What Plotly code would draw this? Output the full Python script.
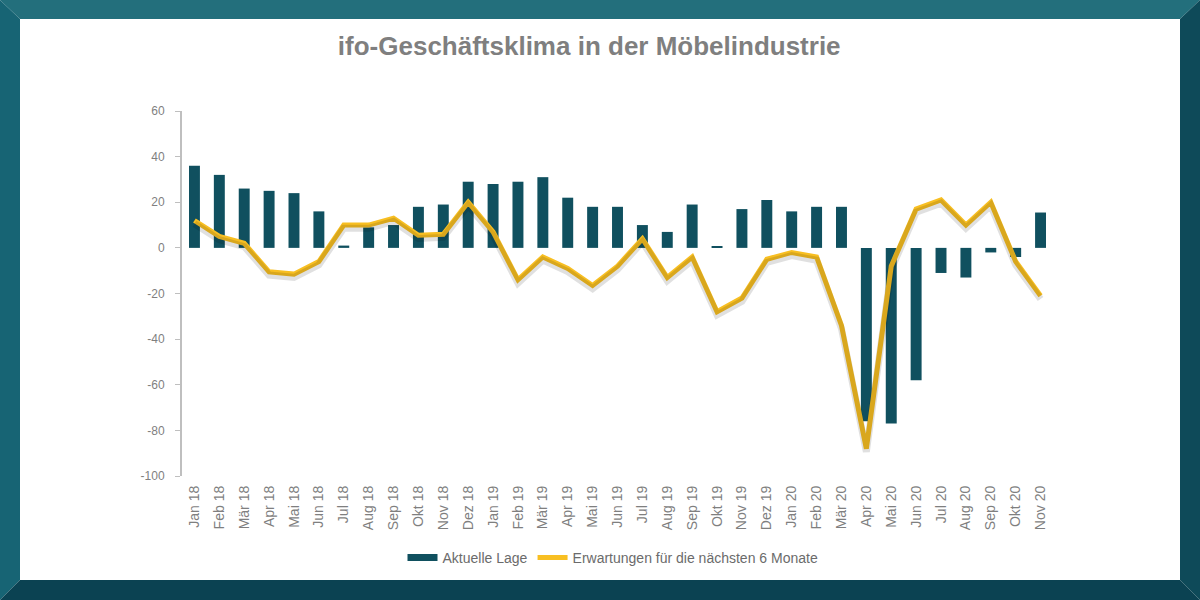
import plotly.graph_objs as go

# months Jan 18 .. Nov 20
months = ['Jan 18', 'Feb 18', 'Mär 18', 'Apr 18', 'Mai 18', 'Jun 18', 'Jul 18', 'Aug 18',
          'Sep 18', 'Okt 18', 'Nov 18', 'Dez 18', 'Jan 19', 'Feb 19', 'Mär 19', 'Apr 19',
          'Mai 19', 'Jun 19', 'Jul 19', 'Aug 19', 'Sep 19', 'Okt 19', 'Nov 19', 'Dez 19',
          'Jan 20', 'Feb 20', 'Mär 20', 'Apr 20', 'Mai 20', 'Jun 20', 'Jul 20', 'Aug 20',
          'Sep 20', 'Okt 20', 'Nov 20']

aktuelle_lage = [36, 32, 26, 25, 24, 16, 1, 9, 10, 18, 19, 29, 28, 29, 31, 22,
                 18, 18, 10, 7, 19, 0.6, 17, 21, 16, 18, 18, -76, -77, -58, -11, -13,
                 -2, -4, 15.5]

erwartungen = [12, 5, 2, -10.5, -11.5, -6, 10, 10, 13, 5.5, 6, 20, 7, -14, -4, -9,
               -16.5, -8, 4, -13, -4, -28, -22, -5, -2, -4, -34, -88, -8, 17, 21, 10,
               20, -6, -21]

y_ticks = [60, 40, 20, 0, -20, -40, -60, -80, -100]
y_ticktext = [str(v) for v in y_ticks]   # plain hyphen like the original

BAR_COLOR = '#10505f'
LINE_COLOR = '#f8bf22'
GREY = '#7f7f7f'

# plot area in pixels (1200x600 page)
L, R, T, B = 182, 1053, 111, 476


def px(x, y):
    # page pixel -> paper coords
    return (x - L) / (R - L), (B - y) / (B - T)


def poly(pts):
    s = ''
    for i, (x, y) in enumerate(pts):
        a, b = px(x, y)
        s += ('M' if i == 0 else 'L') + f'{a:.5f},{b:.5f} '
    return s + 'Z'


fig = go.Figure()

fig.add_trace(go.Bar(x=months, y=aktuelle_lage, name='Aktuelle Lage', showlegend=False,
                     marker=dict(color=BAR_COLOR, line=dict(width=0))))
# legend entry drawn as a wide block like the original
fig.add_trace(go.Scatter(x=[months[0]], y=[None], mode='lines', name='Aktuelle Lage',
                         line=dict(color=BAR_COLOR, width=7), hoverinfo='skip'))
# soft shadow under the line (drawn on a slightly shifted overlay axis)
fig.add_trace(go.Scatter(x=months, y=erwartungen, mode='lines', yaxis='y2',
                         line=dict(color='rgba(0,0,0,0.12)', width=7),
                         showlegend=False, hoverinfo='skip'))
fig.add_trace(go.Scatter(x=months, y=erwartungen, mode='lines',
                         name='Erwartungen für die nächsten 6 Monate',
                         line=dict(color=LINE_COLOR, width=5)))

zero_pos = px(0, 248)[1]

shapes = [
    dict(type='path', xref='paper', yref='paper', layer='above', line_width=0,
         fillcolor='#236f7c', path=poly([(0, 0), (1200, 0), (1180, 19), (20, 19)])),
    dict(type='path', xref='paper', yref='paper', layer='above', line_width=0,
         fillcolor='#176474', path=poly([(0, 0), (20, 19), (20, 580), (0, 600)])),
    dict(type='path', xref='paper', yref='paper', layer='above', line_width=0,
         fillcolor='#0e4a59', path=poly([(1200, 0), (1200, 600), (1180, 580), (1180, 19)])),
    dict(type='path', xref='paper', yref='paper', layer='above', line_width=0,
         fillcolor='#0b4252', path=poly([(0, 600), (20, 580), (1180, 580), (1200, 600)])),
]

fig.update_layout(
    width=1200, height=600,
    margin=dict(l=L, r=1200 - R, t=T, b=600 - B),
    paper_bgcolor='white', plot_bgcolor='white',
    font=dict(family='Liberation Sans, Arial', color=GREY),
    title=dict(text='ifo-Geschäftsklima in der Möbelindustrie', x=0.491, y=0.923,
               xanchor='center', yanchor='middle',
               font=dict(size=26, color=GREY, weight='bold')),
    bargap=0.56,
    showlegend=True,
    legend=dict(orientation='h', x=px(613, 0)[0], y=px(0, 558)[1], xanchor='center',
                yanchor='middle', font=dict(size=14, color='#6b6b6b'),
                itemwidth=30, tracegroupgap=0),
    xaxis=dict(type='category', tickangle=-90, showline=False, ticks='',
               showgrid=False, zeroline=False, ticklabelstandoff=6,
               tickfont=dict(size=14, color=GREY)),
    xaxis2=dict(overlaying='x', anchor='free', position=zero_pos, range=[-0.5, 34.5],
                showline=True, linecolor='#bfbfbf', linewidth=2, ticks='outside',
                ticklen=4, tickwidth=1, tickcolor='#bfbfbf', tick0=-0.5, dtick=1,
                showticklabels=False, showgrid=False, zeroline=False),
    xaxis3=dict(overlaying='x', anchor='free', position=zero_pos, range=[-0.5, 34.5],
                showline=False, ticks='inside', ticklen=4, tickwidth=1,
                tickcolor='#bfbfbf', tick0=-0.5, dtick=1,
                showticklabels=False, showgrid=False, zeroline=False),
    yaxis=dict(range=[-100, 60], tickvals=y_ticks, ticktext=y_ticktext,
               showgrid=False, zeroline=False,
               showline=True, linecolor='#bfbfbf', linewidth=2, ticks='outside',
               ticklen=5, tickcolor='#bfbfbf', ticklabelstandoff=8,
               tickfont=dict(size=12, color=GREY)),
    yaxis2=dict(overlaying='y', range=[-98.6, 61.4], visible=False),
    shapes=shapes,
)

fig.write_html('out.html', config={'displayModeBar': False},
               post_script="document.body.style.margin='0';")
